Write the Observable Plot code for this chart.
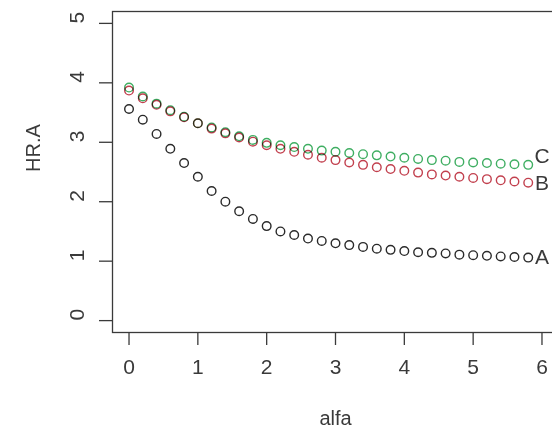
<!DOCTYPE html>
<html>
<head>
<meta charset="utf-8">
<script src="https://cdn.jsdelivr.net/npm/d3@7"></script>
<script src="https://cdn.jsdelivr.net/npm/@observablehq/plot@0.6"></script>
<style>
  html, body { margin: 0; padding: 0; background: #fff; }
  #chart svg { display: block; }
</style>
</head>
<body>
<div id="chart"></div>
<script>
// alfa grid (x values)
const alfa = [0, 0.2, 0.4, 0.6, 0.8, 1.0, 1.2, 1.4, 1.6, 1.8, 2.0, 2.2, 2.4, 2.6, 2.8,
              3.0, 3.2, 3.4, 3.6, 3.8, 4.0, 4.2, 4.4, 4.6, 4.8, 5.0, 5.2, 5.4, 5.6, 5.8];
// Series A (black)
const seriesA = [3.56, 3.38, 3.14, 2.89, 2.65, 2.42, 2.18, 2.00, 1.84, 1.71, 1.59, 1.50, 1.44, 1.38, 1.34,
                 1.30, 1.27, 1.24, 1.21, 1.19, 1.17, 1.15, 1.14, 1.13, 1.11, 1.10, 1.09, 1.08, 1.07, 1.06];
// Series B (red)
const seriesB = [3.87, 3.74, 3.63, 3.52, 3.42, 3.32, 3.23, 3.15, 3.08, 3.01, 2.95, 2.89, 2.84, 2.79, 2.74,
                 2.70, 2.66, 2.62, 2.58, 2.55, 2.52, 2.49, 2.46, 2.44, 2.42, 2.40, 2.38, 2.36, 2.34, 2.32];
// Series C (green)
const seriesC = [3.92, 3.77, 3.65, 3.54, 3.43, 3.32, 3.25, 3.17, 3.10, 3.04, 2.99, 2.95, 2.92, 2.89, 2.86,
                 2.84, 2.82, 2.80, 2.78, 2.76, 2.74, 2.72, 2.70, 2.69, 2.67, 2.66, 2.65, 2.64, 2.63, 2.62];

const seriesNames = ["A", "B", "C"];
const seriesColors = ["#2a2a2a", "#c2404e", "#3fae62"];
const labelX = [6, 6, 6];
const labelY = [1.06, 2.31, 2.77];

const xTicks = [0, 1, 2, 3, 4, 5, 6];
const yTicks = [0, 1, 2, 3, 4, 5];
const xTitle = "alfa";
const yTitle = "HR.A";

const allSeries = [seriesA, seriesB, seriesC];
const points = [];
allSeries.forEach((vals, i) => {
  vals.forEach((v, j) => points.push({alfa: alfa[j], value: v, series: seriesNames[i]}));
});
const labels = seriesNames.map((s, i) => ({series: s, x: labelX[i], y: labelY[i]}));

const FONT = "Liberation Sans, Arial, Helvetica, sans-serif";
const TXT = "#3a3a3a";

const chart = Plot.plot({
  width: 552,
  height: 435,
  marginLeft: 112,
  marginTop: 11,
  marginBottom: 103,
  marginRight: -6,
  style: {fontFamily: FONT, background: "#fff", color: TXT},
  x: {domain: [-0.24, 6.24]},
  y: {domain: [-0.2, 5.2]},
  color: {domain: seriesNames, range: seriesColors},
  marks: [
    Plot.frame({stroke: "#3a3a3a", strokeWidth: 1.3}),
    Plot.axisX({ticks: xTicks, tickSize: 13, tickFormat: () => "", stroke: "#3a3a3a", strokeWidth: 1.3, label: null}),
    Plot.axisY({ticks: yTicks, tickSize: 13, tickFormat: () => "", stroke: "#3a3a3a", strokeWidth: 1.3, label: null}),
    Plot.text(xTicks, {x: d => d, frameAnchor: "bottom", dy: 41, text: d => String(d), fontSize: 21, fill: TXT}),
    Plot.text(yTicks, {y: d => d, frameAnchor: "left", dx: -35, rotate: -90, text: d => String(d), fontSize: 21, fill: TXT}),
    Plot.text([xTitle], {frameAnchor: "bottom", dy: 92, text: d => d, fontSize: 20, fill: TXT}),
    Plot.text([yTitle], {frameAnchor: "left", dx: -79, rotate: -90, text: d => d, fontSize: 20, fill: TXT}),
    Plot.dot(points, {x: "alfa", y: "value", stroke: "series", r: 4.3, strokeWidth: 1.4, fill: "none", mixBlendMode: "multiply"}),
    Plot.text(labels, {x: "x", y: "y", text: "series", fontSize: 21, fill: TXT, stroke: "white", strokeWidth: 3})
  ]
});
document.getElementById("chart").appendChild(chart);
</script>
</body>
</html>
